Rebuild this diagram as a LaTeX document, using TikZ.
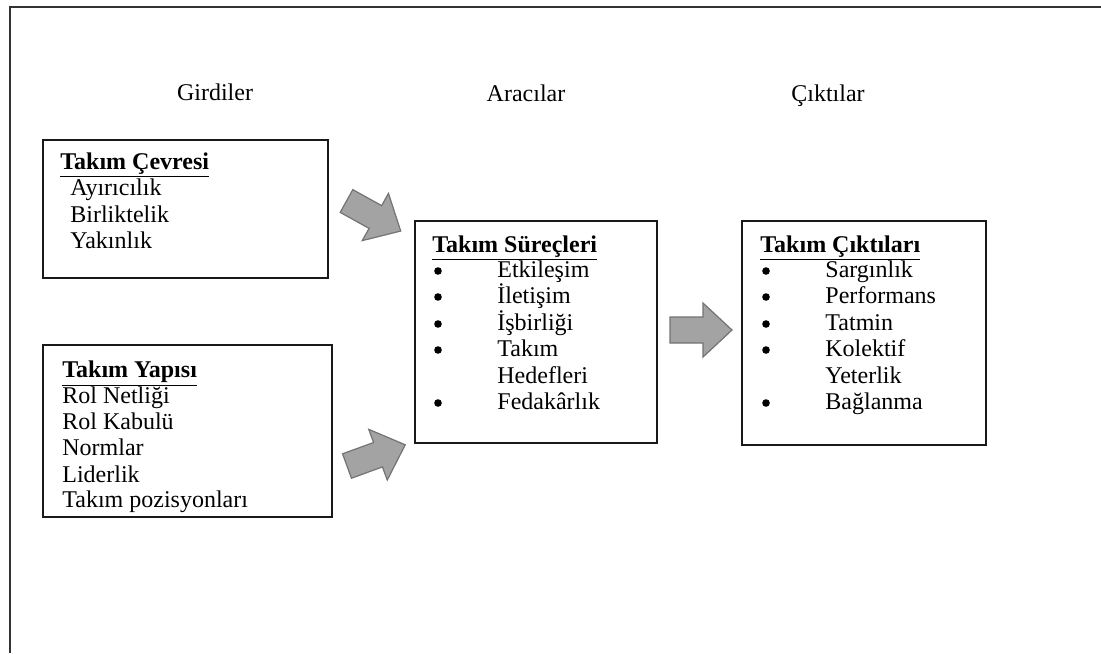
\documentclass[tikz,border=0pt]{standalone}
\usepackage{fontspec}
\setmainfont{Liberation Serif}
\usetikzlibrary{fit}
\tikzset{
  frameline/.style={draw=black!80, line width=1pt},
  box/.style={draw=black!90, line width=1pt, inner sep=0pt},
  txt/.style={anchor=base west, inner sep=0pt, font=\fontsize{12}{14}\selectfont},
  head/.style={anchor=base, inner sep=0pt, font=\fontsize{12}{14}\selectfont},
  bulletdot/.style={circle, fill=black, inner sep=0pt, minimum size=3.8pt},
  arrowbody/.style={fill=black!36, draw=black!55, line width=0.6pt, line join=miter},
  blockarrow/.pic={
    \path[arrowbody] (0,-13) -- (33,-13) -- (33,-27) -- (62,0) -- (33,27) -- (33,13) -- (0,13) -- cycle;
  }
}
\newcommand{\ttl}[1]{\textbf{\underline{#1}}}
\begin{document}
\begin{tikzpicture}[x=0.5pt, y=-0.5pt]
\useasboundingbox (0,0) rectangle (1101,653);
% outer frame: top and left edges only
\draw[frameline] (1101,6.5) -- (10,6.5) -- (10,653);

% column headings
\node[head] (hin)  at (215,100) {Girdiler};
\node[head] (hmed) at (526,101) {Aracılar};
\node[head] (hout) at (828,101) {Çıktılar};

% boxes
\node[box, fit={(43,140) (328,278)}] (cevre) {};
\node[box, fit={(43,345) (332,517)}] (yapi) {};
\node[box, fit={(415,221) (657,443)}] (surec) {};
\node[box, fit={(742,221) (986,445)}] (cikti) {};

% Takım Çevresi
\node[txt] (c0) at (60,169) {\ttl{Takım Çevresi}};
\node[txt] (c1) at (70,195) {Ayırıcılık};
\node[txt] (c2) at (70,222) {Birliktelik};
\node[txt] (c3) at (70,248) {Yakınlık};

% Takım Yapısı
\node[txt] (y0) at (62,377) {\ttl{Takım Yapısı}};
\node[txt] (y1) at (62,403) {Rol Netliği};
\node[txt] (y2) at (62,429) {Rol Kabulü};
\node[txt] (y3) at (62,455) {Normlar};
\node[txt] (y4) at (62,482) {Liderlik};
\node[txt] (y5) at (62,507) {Takım pozisyonları};

% Takım Süreçleri
\node[txt] (s0) at (432,252) {\ttl{Takım Süreçleri}};
\foreach \yy/\lbl/\bul [count=\i] in {277/Etkileşim/1, 303/İletişim/1, 330/İşbirliği/1, 356/Takım/1, 383/Hedefleri/0, 409/Fedakârlık/1}{
  \ifnum\bul=1 \node[bulletdot] (sb\i) at (438,\yy-6) {}; \fi
  \node[txt] (s\i) at (497,\yy) {\lbl};
}

% Takım Çıktıları
\node[txt] (k0) at (760,252) {\ttl{Takım Çıktıları}};
\foreach \yy/\lbl/\bul [count=\i] in {277/Sargınlık/1, 303/Performans/1, 330/Tatmin/1, 356/Kolektif/1, 383/Yeterlik/0, 409/Bağlanma/1}{
  \ifnum\bul=1 \node[bulletdot] (kb\i) at (766,\yy-6) {}; \fi
  \node[txt] (k\i) at (825,\yy) {\lbl};
}

% block arrows between the stages
\pic[rotate=-29] at (346.5,201) {blockarrow};
\pic[rotate=20] at (347,466) {blockarrow};
\pic at (670,330) {blockarrow};
\end{tikzpicture}
\end{document}
